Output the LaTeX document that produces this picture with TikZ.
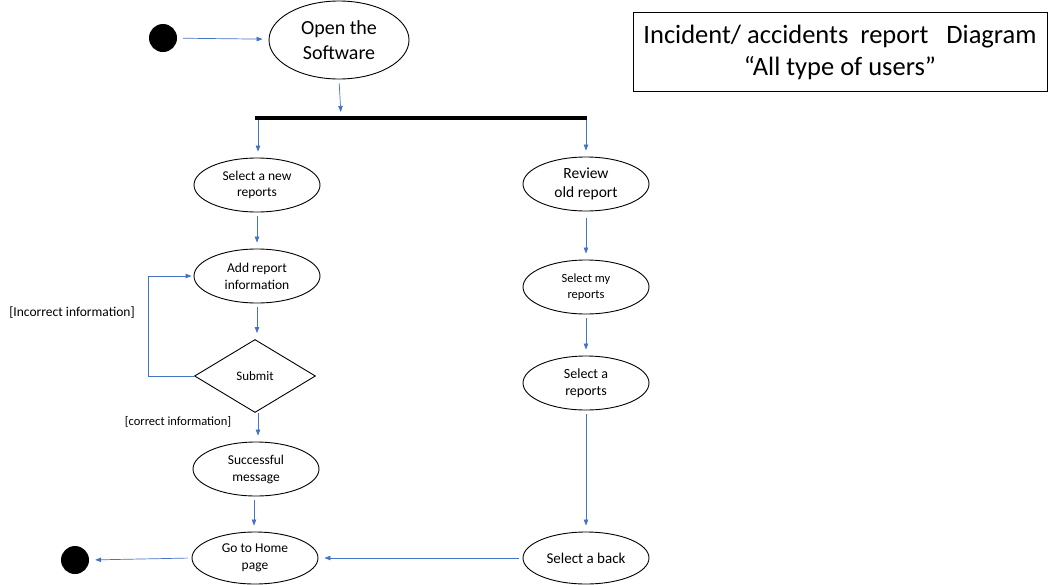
\documentclass[tikz,border=0pt]{standalone}
\usepackage{fontspec}
\setmainfont{Carlito}
\usetikzlibrary{shapes.geometric,arrows.meta}
\definecolor{arrowblue}{HTML}{4472C4}
\tikzset{
  act/.style={draw, ellipse, line width=0.9pt, inner sep=0pt, minimum width=126pt, minimum height=54pt, align=center},
  flow/.style={draw=arrowblue, line width=0.7pt, -{Triangle[length=6pt,width=4.5pt]}, shorten >=6pt, shorten <=4pt},
  dot/.style={circle, fill=black, inner sep=0pt, minimum size=28pt},
  lbl/.style={font=\fontsize{13}{15}\selectfont}
}
\begin{document}
\begin{tikzpicture}[x=1pt,y=-1pt]
\useasboundingbox (0,0) rectangle (1049,584);
% start
\node[dot] (start) at (163,38) {};
\node[act, minimum width=140pt, minimum height=78pt, font=\fontsize{20}{25}\selectfont] (open) at (339,40) {Open the\\Software};
\draw[flow, shorten <=6pt] (start) -- (open);
% bar
\draw[line width=3.5pt] (255,118) coordinate (barL) -- (587,118) coordinate (barR);
\coordinate (barA) at (341,116);
\coordinate (barB) at (258,120);
\coordinate (barC) at (586,120);
\draw[flow, shorten >=4pt] (open.south) -- (barA);
% left column
\node[act, font=\fontsize{13.5}{16}\selectfont] (newrep) at (257,185) {Select a new\\reports};
\node[act, font=\fontsize{13.5}{17}\selectfont] (add) at (257,276) {Add report\\information};
\node[draw, diamond, aspect=1.65, line width=0.9pt, inner sep=0pt, minimum width=121pt, minimum height=73pt, font=\fontsize{13}{15}\selectfont] (submit) at (255,376) {Submit};
\node[act, font=\fontsize{13.5}{17}\selectfont] (succ) at (256,469) {Successful\\message};
\node[act, minimum height=52pt, font=\fontsize{13.5}{17}\selectfont] (home) at (255,558) {Go to Home\\page};
\node[dot] (endd) at (75,560) {};
\draw[flow, shorten <=0pt] (barB) -- (barB |- newrep.north);
\draw[flow] (newrep.south) -- (newrep.south |- add.north);
\draw[flow] (add.south) -- (add.south |- submit.north);
\draw[flow, shorten <=0pt, shorten >=2pt] (submit.west) -- (148,376) coordinate (loopc) -- (148,276) -- (add.west);
\draw[flow, shorten <=0pt] (submit.south -| 258,0) -- (258,0 |- succ.north);
\draw[flow] (succ.south -| 254,0) -- (254,0 |- home.north);
\draw[flow] (home.west) -- (endd.east);
\node[font=\fontsize{13.5}{15}\selectfont] (incor) at (72,313) {[Incorrect information]};
\node[font=\fontsize{12.5}{15}\selectfont] (cor) at (178,422) {[correct information]};
% right column
\node[act, font=\fontsize{15.5}{19}\selectfont] (review) at (586,184) {Review\\old report};
\node[act, font=\fontsize{12.5}{16}\selectfont] (myrep) at (586,287) {Select my\\reports};
\node[act, font=\fontsize{14}{17}\selectfont] (selrep) at (586,383) {Select a\\reports};
\node[act, minimum height=52pt, font=\fontsize{15}{17}\selectfont] (back) at (586,558) {Select a back};
\draw[flow, shorten <=0pt] (barC) -- (barC |- review.north);
\draw[flow, shorten <=7pt] (review.south) -- (review.south |- myrep.north);
\draw[flow] (myrep.south) -- (myrep.south |- selrep.north);
\draw[flow] (selrep.south) -- (selrep.south |- back.north);
\draw[flow] (back.west) -- (home.east);
% title
\node[draw, line width=0.8pt, minimum width=414pt, minimum height=79pt, align=center, inner sep=0pt, font=\fontsize{26.5}{32}\selectfont] (title) at (840,52) {Incident/ accidents\ \ report\ \ \ Diagram\\\textquotedblleft All type of users\textquotedblright};
\end{tikzpicture}
\end{document}
